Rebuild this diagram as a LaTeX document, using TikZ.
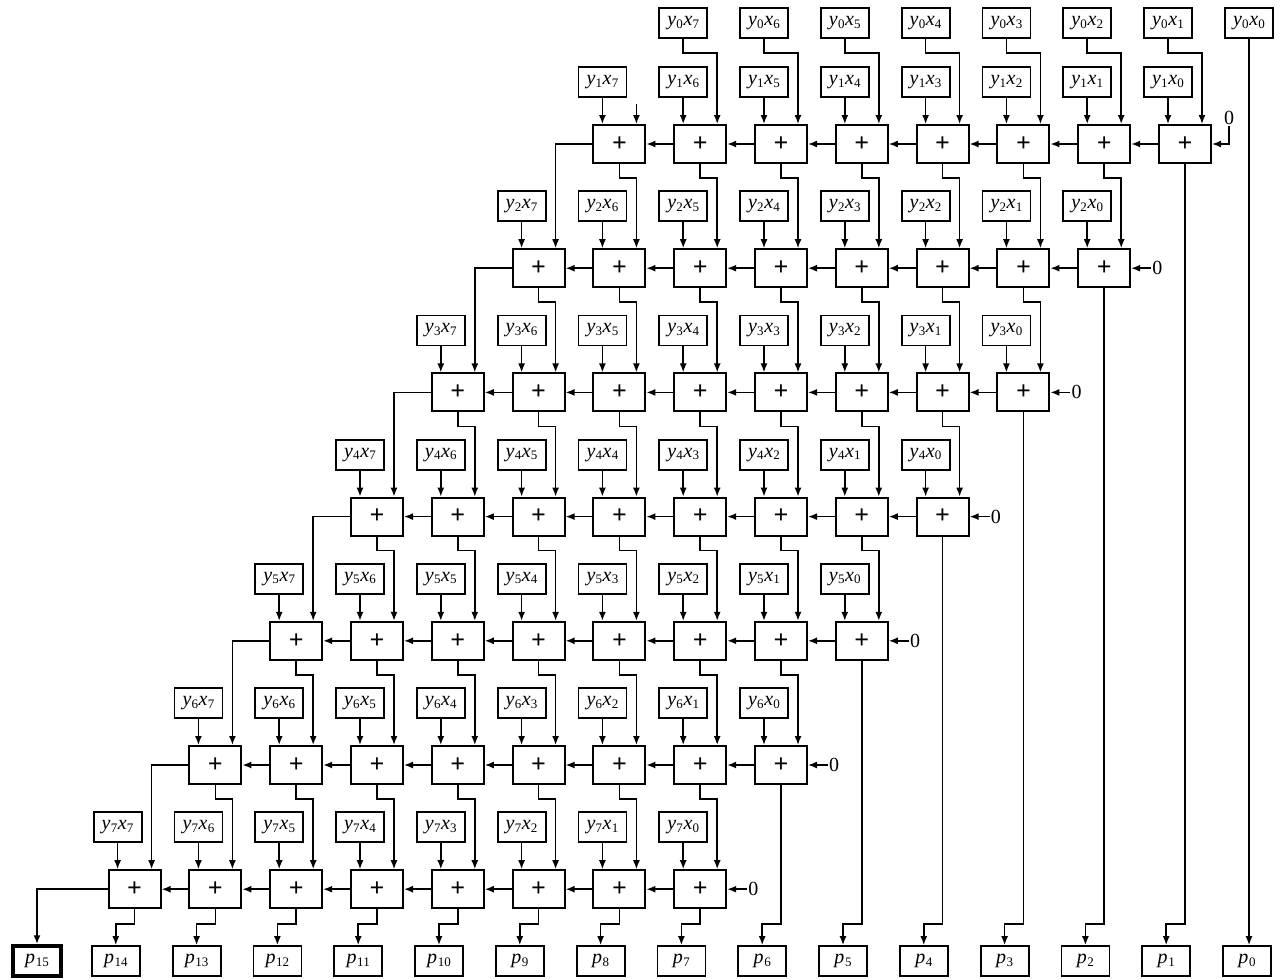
\documentclass[tikz,border=0pt]{standalone}
\usepackage{fontspec}
\setmainfont{Liberation Serif}
\usetikzlibrary{arrows.meta,calc}
\newcommand\prd[2]{\textit{y}\kern0.2pt\raisebox{-0.3ex}{\fontsize{13}{13}\selectfont #1}\kern0.6pt\textit{x}\kern0.2pt\raisebox{-0.3ex}{\fontsize{13}{13}\selectfont #2}}
\newcommand\outp[1]{\textit{p}\kern0.6pt\raisebox{-0.3ex}{\fontsize{13}{13}\selectfont #1}}
\begin{document}
\begin{tikzpicture}[x=1pt,y=-1pt,
  prod/.style={draw,line width=1.8pt,minimum width=48pt,minimum height=30pt,inner sep=0pt,font=\fontsize{20}{20}\selectfont},
  add/.style={draw,line width=2pt,minimum width=52pt,minimum height=38pt,inner sep=0pt,font=\fontsize{26}{26}\selectfont\bfseries},
  arr/.style={line width=1.5pt,-{Latex[length=9pt,width=7pt]}},
  zero/.style={font=\fontsize{20}{20}\selectfont,inner sep=1pt}]
\fill[white] (0,0) rectangle (1285,978);
\useasboundingbox (0,0) rectangle (1285,978);
% adders and partial products
\foreach \i in {1,...,7} {
  \foreach \j in {0,...,7} {
    \pgfmathsetmacro\ax{1185-80.8*(\j+\i-1)}
    \pgfmathsetmacro\ay{144+124.2*(\i-1)}
    \node[add] (A-\i-\j) at (\ax,\ay) {+};
    \node[prod] (P-\i-\j) at (\ax-17,\ay-62) {\prd{\i}{\j}};
  }
}
\foreach \j in {1,...,7} {
  \pgfmathsetmacro\ax{1185-80.8*(\j-1)-17}
  \node[prod] (P-0-\j) at (\ax,23) {\prd{0}{\j}};
}
\node[prod] (P-0-0) at (1249,23) {\prd{0}{0}};
% outputs
\foreach \k in {0,...,14} {
  \pgfmathsetmacro\px{1247-80.8*\k}
  \node[prod] (p-\k) at (\px,961) {\outp{\k}};
}
\node[prod,line width=3.5pt] (p-15) at (37,961) {\outp{15}};
% product -> adder
\foreach \i in {1,...,7} {
  \foreach \j in {0,...,7} {
    \draw[arr] (P-\i-\j.south) -- (P-\i-\j.south |- A-\i-\j.north);
  }
}
% carry chain
\foreach \i in {1,...,7} {
  \foreach \j [evaluate=\j as \jn using {int(\j+1)}] in {0,...,6} {
    \draw[arr] (A-\i-\j.west) -- (A-\i-\jn.east);
  }
}
% row 0 -> row 1
\foreach \j [evaluate=\j as \jm using {int(\j-1)}] in {1,...,7} {
  \draw[arr] (P-0-\j.south) -- ++(0,14) -| ([xshift=17pt]A-1-\jm.north);
}
\coordinate (stub) at ($(A-1-7.north)+(17,-20)$);
\draw[arr] (stub) -- ([xshift=17pt]A-1-7.north);
% sums to next row
\foreach \i [evaluate=\i as \in using {int(\i+1)}] in {1,...,6} {
  \foreach \j [evaluate=\j as \jm using {int(\j-1)}] in {1,...,7} {
    \draw[arr] (A-\i-\j.south) -- ++(0,14) -| ([xshift=17pt]A-\in-\jm.north);
  }
  \draw[arr] (A-\i-7.west) -| ([xshift=17pt]A-\in-7.north);
}
% carry-in zeros
\node[zero] (Z-1) at (1229,118) {0};
\draw[arr] (Z-1.south) |- (A-1-0.east);
\foreach \i in {2,...,7} {
  \node[zero,anchor=west] (Z-\i) at ($(A-\i-0.east)+(20,0)$) {0};
  \draw[arr] (Z-\i.west) -- (A-\i-0.east);
}
% outputs
\draw[arr] (P-0-0.south) -- (P-0-0.south |- p-0.north);
\foreach \i in {1,...,6} {
  \draw[arr] (A-\i-0.south) |- ($(p-\i.north)+(0,-21)$) -- (p-\i.north);
}
\foreach \j [evaluate=\j as \k using {int(\j+7)}] in {0,...,7} {
  \draw[arr] (A-7-\j.south) |- ($(p-\k.north)+(0,-21)$) -- (p-\k.north);
}
\draw[arr,line width=2.5pt] (A-7-7.west) -| (p-15.north);
\end{tikzpicture}
\end{document}
